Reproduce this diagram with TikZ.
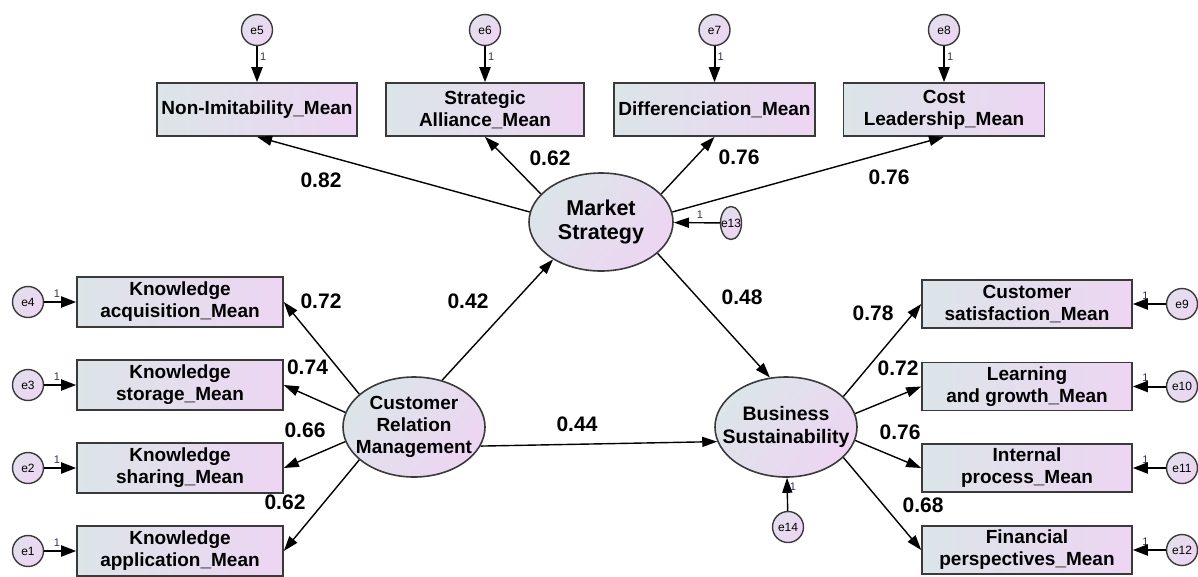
\documentclass[tikz,border=0pt]{standalone}
\usepackage{fontspec}
\setmainfont{Liberation Sans}
\usetikzlibrary{positioning,arrows.meta,shapes.geometric}
\definecolor{shadeL}{HTML}{DCE5E8}
\definecolor{shadeR}{HTML}{EDD5F3}
\definecolor{rim}{HTML}{3A3A3A}
\definecolor{onecol}{HTML}{2E3350}
\tikzset{%
  indicator/.style={
    rectangle,
    draw=rim,
    line width=1.6pt,
    left color=shadeL,
    right color=shadeR,
    minimum width=206pt,
    minimum height=50pt,
    inner sep=0pt,
    align=center,
    font=\bfseries\fontsize{19}{22}\selectfont
  },
  latent/.style={
    ellipse,
    draw=rim,
    line width=1.6pt,
    top color=shadeL,
    bottom color=shadeR,
    shading angle=50,
    minimum width=142pt,
    minimum height=100pt,
    inner xsep=-16pt,
    inner ysep=0pt,
    align=center
  },
  error/.style={
    circle,
    draw=rim,
    line width=1.4pt,
    top color=shadeL!60!shadeR,
    bottom color=shadeR,
    shading angle=50,
    minimum size=31pt,
    inner sep=0pt,
    font=\fontsize{12}{12}\selectfont
  },
}

\begin{document}
\begin{tikzpicture}[x=1pt,y=-1pt,>={Triangle[length=15pt,width=10pt]}]
  \tikzstyle{load}=[->,line width=1.4pt]
  \tikzstyle{resid}=[->,line width=2pt,>={Triangle[length=15pt,width=11pt]}]
  \tikzstyle{wt}=[font=\bfseries\fontsize{21}{21}\selectfont,inner sep=1pt]
  \tikzstyle{one}=[font=\fontsize{11}{11}\selectfont,text=onecol,inner sep=0pt]
  \useasboundingbox (0,0) rectangle (1198,576);

  % latent variables
  \node[latent,minimum width=144pt,minimum height=98pt,font=\bfseries\fontsize{21.5}{24}\selectfont] (ms) at (601,222) {Market\\Strategy};
  \node[latent,font=\bfseries\fontsize{19}{22}\selectfont] (crm) at (414,427) {Customer\\Relation\\Management};
  \node[latent,font=\bfseries\fontsize{19.5}{23}\selectfont] (bs) at (786,427) {Business\\Sustainability};

  % indicators
  \node[indicator,minimum width=200pt,minimum height=53pt] (ni) at (257,109.5) {Non-Imitability\_Mean};
  \node[indicator,minimum width=198pt,minimum height=53pt] (sa) at (485,109.5) {Strategic\\Alliance\_Mean};
  \node[indicator,minimum width=201pt,minimum height=53pt] (dm) at (714.5,109.5) {Differenciation\_Mean};
  \node[indicator,minimum width=201pt,minimum height=53pt] (cl) at (944,109.5) {Cost\\Leadership\_Mean};

  \node[indicator] (ka) at (180,302) {Knowledge\\acquisition\_Mean};
  \node[indicator] (ks) at (180,385) {Knowledge\\storage\_Mean};
  \node[indicator] (kh) at (180,468) {Knowledge\\sharing\_Mean};
  \node[indicator] (kp) at (180,551) {Knowledge\\application\_Mean};

  \node[indicator,minimum width=210pt,minimum height=48pt] (cs) at (1027,304) {Customer\\satisfaction\_Mean};
  \node[indicator,minimum width=210pt,minimum height=48pt] (lg) at (1027,386.5) {Learning\\and growth\_Mean};
  \node[indicator,minimum width=210pt,minimum height=48pt] (ip) at (1027,468) {Internal\\process\_Mean};
  \node[indicator,minimum width=210pt,minimum height=48pt] (fp) at (1027,550) {Financial\\perspectives\_Mean};

  % error terms
  \foreach \e/\x/\t in {e5/257/ni,e6/485/sa,e7/714.5/dm,e8/944/cl}{
    \node[error] (\e) at (\x,30) {\e};
    \draw[resid] (\e) -- node[one,pos=.3,right=2pt] (one\e) {1} (\t);
  }
  \foreach \e/\y/\t in {e4/302/ka,e3/385/ks,e2/468/kh,e1/551/kp}{
    \node[error] (\e) at (28,\y) {\e};
    \draw[resid] (\e) -- node[one,pos=.4,above=4pt] (one\e) {1} (\t);
  }
  \foreach \e/\y/\t in {e9/304/cs,e10/386.5/lg,e11/468/ip,e12/550/fp}{
    \node[error] (\e) at (1182,\y) {\e};
    \draw[resid] (\e) -- node[one,pos=.62,above=4pt] (one\e) {1} (\t);
  }
  \node[error,ellipse,minimum width=21pt,minimum height=33pt,inner xsep=-5pt] (e13) at (731,223) {e13};
  \draw[load] (e13) -- node[one,pos=.43,above=4pt] (onee13) {1} (ms);
  \node[error] (e14) at (788,527) {e14};
  \draw[load] (e14) -- node[one,pos=.74,right=2pt] (onee14) {1} (bs);

  % structural paths and loadings
  \draw[load] (ms.172) -- (ni.south);
  \draw[load] (ms.155) -- (sa.south);
  \draw[load] (ms.25) -- (dm.south);
  \draw[load] (ms.8) -- (cl.south);
  \draw[load] (crm.59) -- (ms.218);
  \draw[load] (ms.-29) -- (bs.108);
  \draw[load] (crm.-16) -- (bs.192);
  \draw[load] (crm.149) -- (ka.east);
  \draw[load] (crm.168) -- (ks.east);
  \draw[load] (crm.192) -- (kh.east);
  \draw[load] (crm.211) -- (kp.east);
  \draw[load] (bs.28) -- (cs.west);
  \draw[load] (bs.11) -- (lg.west);
  \draw[load] (bs.-11) -- (ip.west);
  \draw[load] (bs.-28) -- (fp.west);

  % estimates
  \node[wt] (l82) at (321,180) {0.82};
  \node[wt] (l62) at (550,158) {0.62};
  \node[wt] (l76a) at (739,157) {0.76};
  \node[wt] (l76b) at (889,177) {0.76};
  \node[wt] (l42) at (468,301) {0.42};
  \node[wt] (l48) at (742,297) {0.48};
  \node[wt] (l44) at (577,424) {0.44};
  \node[wt] (l72a) at (321,301) {0.72};
  \node[wt] (l74) at (307.5,367) {0.74};
  \node[wt] (l66) at (305,430) {0.66};
  \node[wt] (l62b) at (285,502) {0.62};
  \node[wt] (l78) at (873,313) {0.78};
  \node[wt] (l72b) at (898,368) {0.72};
  \node[wt] (l76c) at (900,432) {0.76};
  \node[wt] (l68) at (923,505) {0.68};
\end{tikzpicture}
\end{document}
